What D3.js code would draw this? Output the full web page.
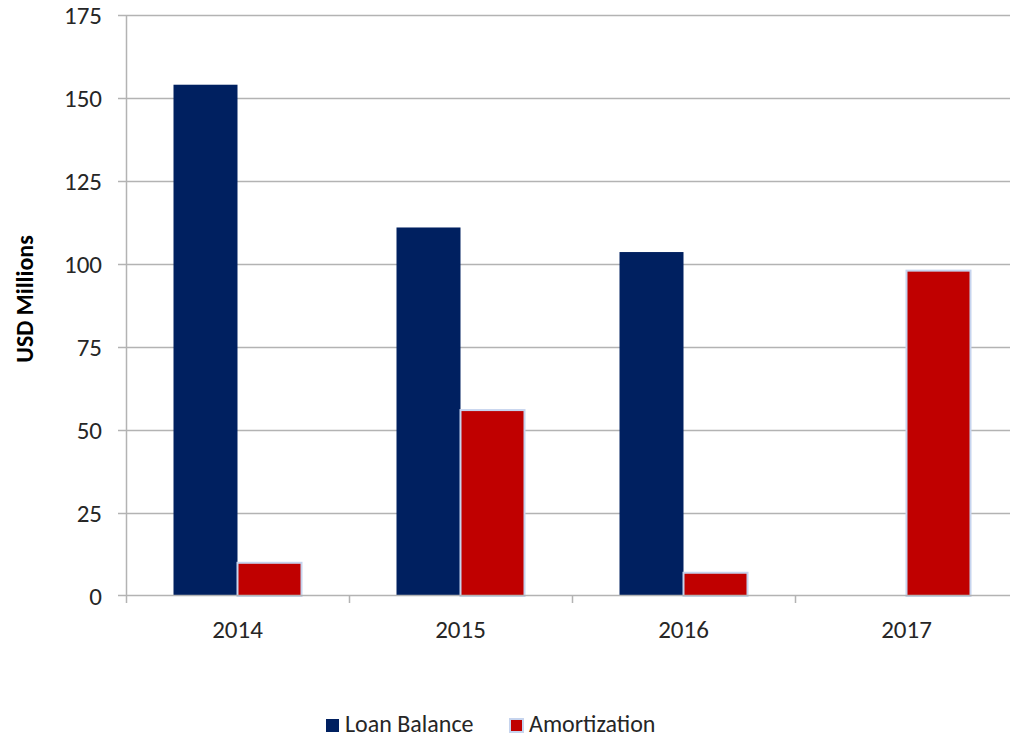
<!DOCTYPE html>
<html>
<head>
<meta charset="utf-8">
<script src="https://cdn.jsdelivr.net/npm/d3@7"></script>
<style>
  body { margin: 0; background: #fff; }
  svg { display: block; font-family: Carlito, "Open Sans", "Liberation Sans", sans-serif; }
</style>
</head>
<body>
<svg id="chart" width="1010" height="739"></svg>
<script>
// chart values
const years = ['2014', '2015', '2016', '2017'];
const loanBalance = [154, 111, 103.6, 0];
const amortization = [10, 56, 7, 98];
const yTicks = [0, 25, 50, 75, 100, 125, 150, 175];
const seriesNames = ['Loan Balance', 'Amortization'];

const colors = { loan: '#002060', amort: '#C00000', amortEdge: '#c6d4ee', grid: '#b3b3b3', text: '#262626' };

// plot box (right edge runs past the window, like the reference)
const plot = { left: 126, right: 1018, top: 15, bottom: 596 };

const svg = d3.select('#chart');

const x = d3.scaleBand()
  .domain(years)
  .range([plot.left, plot.right]);

const y = d3.scaleLinear()
  .domain([0, 175])
  .range([plot.bottom, plot.top]);

// group of two bars takes a bit under 60% of each category
const barW = 64;
const sub = d3.scaleBand()
  .domain(seriesNames)
  .range([0, barW * 2]);

// gridlines
svg.append('g')
  .selectAll('line')
  .data(yTicks.filter((t) => t > 0))
  .join('line')
  .attr('x1', plot.left - 8)
  .attr('x2', plot.right)
  .attr('y1', (d) => Math.round(y(d)) + 0.5)
  .attr('y2', (d) => Math.round(y(d)) + 0.5)
  .attr('stroke', colors.grid)
  .attr('stroke-width', 1.5);

// y labels
svg.append('g')
  .selectAll('text')
  .data(yTicks)
  .join('text')
  .attr('x', plot.left - 24)
  .attr('y', (d) => y(d))
  .attr('dy', '0.35em')
  .attr('text-anchor', 'end')
  .attr('font-size', 25)
  .attr('fill', colors.text)
  .text((d) => d);

// bars
const rows = years.map((yr, i) => ({ year: yr, values: [loanBalance[i], amortization[i]] }));

const groups = svg.append('g')
  .selectAll('g')
  .data(rows)
  .join('g')
  .attr('transform', (d) => `translate(${x(d.year) + x.bandwidth() / 2 - barW},0)`);

groups.selectAll('rect')
  .data((d) => d.values.map((v, k) => ({ name: seriesNames[k], value: v })).filter((e) => e.value > 0))
  .join('rect')
  .attr('x', (d) => sub(d.name))
  .attr('y', (d) => y(d.value))
  .attr('width', sub.bandwidth())
  .attr('height', (d) => y(0) - y(d.value))
  .attr('fill', (d) => (d.name === 'Loan Balance' ? colors.loan : colors.amort))
  .attr('stroke', (d) => (d.name === 'Loan Balance' ? 'none' : colors.amortEdge))
  .attr('stroke-width', 2);

// axes lines
svg.append('line')
  .attr('x1', plot.left + 0.5).attr('x2', plot.left + 0.5)
  .attr('y1', plot.top).attr('y2', plot.bottom + 7)
  .attr('stroke', colors.grid).attr('stroke-width', 1.5);

svg.append('line')
  .attr('x1', plot.left - 8).attr('x2', plot.right)
  .attr('y1', plot.bottom - 0.5).attr('y2', plot.bottom - 0.5)
  .attr('stroke', colors.grid).attr('stroke-width', 1.5);

// x tick marks between categories
svg.append('g')
  .selectAll('line')
  .data(years.slice(1))
  .join('line')
  .attr('x1', (d) => Math.round(x(d)) + 0.5)
  .attr('x2', (d) => Math.round(x(d)) + 0.5)
  .attr('y1', plot.bottom)
  .attr('y2', plot.bottom + 7)
  .attr('stroke', colors.grid)
  .attr('stroke-width', 1.5);

// x labels
svg.append('g')
  .selectAll('text')
  .data(years)
  .join('text')
  .attr('x', (d) => x(d) + x.bandwidth() / 2)
  .attr('y', 638)
  .attr('text-anchor', 'middle')
  .attr('font-size', 25)
  .attr('fill', colors.text)
  .text((d) => d);

// y title
svg.append('text')
  .attr('transform', 'translate(33,299) rotate(-90)')
  .attr('text-anchor', 'middle')
  .attr('font-size', 24)
  .attr('font-weight', 'bold')
  .attr('fill', '#000')
  .text('USD Millions');

// legend
const legend = svg.append('g');
const legendItems = [
  { name: seriesNames[0], x: 326, fill: colors.loan, edge: 'none' },
  { name: seriesNames[1], x: 510, fill: colors.amort, edge: colors.amortEdge },
];
const li = legend.selectAll('g')
  .data(legendItems)
  .join('g')
  .attr('transform', (d) => `translate(${d.x},719)`);
li.append('rect')
  .attr('width', 13).attr('height', 13)
  .attr('fill', (d) => d.fill)
  .attr('stroke', (d) => d.edge)
  .attr('stroke-width', 2);
li.append('text')
  .attr('x', 19)
  .attr('y', 13)
  .attr('font-size', 24)
  .attr('fill', colors.text)
  .text((d) => d.name);
</script>
</body>
</html>
